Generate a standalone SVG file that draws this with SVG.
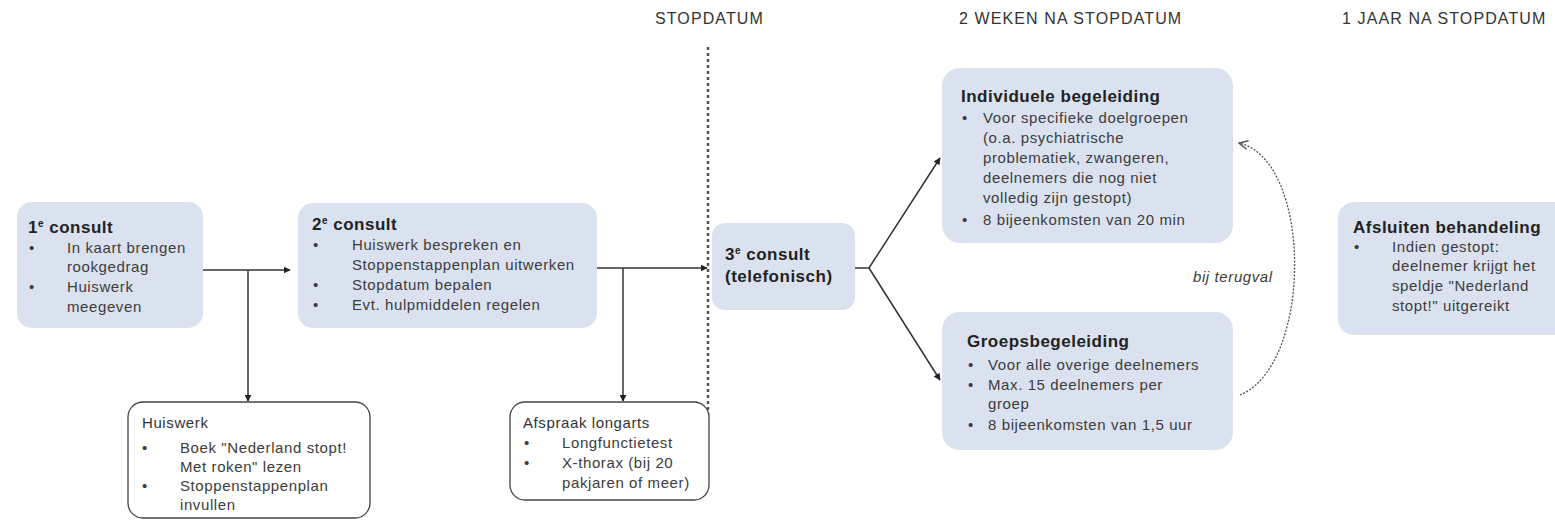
<svg xmlns="http://www.w3.org/2000/svg" width="1555" height="520" viewBox="0 0 1555 520">
<style>
text{font-family:"Liberation Sans",Arial,sans-serif;}
.hdr{font-size:16px;letter-spacing:1.1px;fill:#333;}
.ttl{font-size:17px;font-weight:bold;letter-spacing:0.5px;fill:#222;}
.txt{font-size:15px;letter-spacing:0.6px;fill:#3c3c3c;}
.sub{font-size:15px;letter-spacing:0.6px;fill:#333;}
.box{fill:#dae2f0;}
.obox{fill:#ffffff;stroke:#444;stroke-width:1.3;}
.con{fill:none;stroke:#333;stroke-width:1.5;}
.sup{font-size:10px;}
</style>
<defs>
<marker id="arr" viewBox="0 0 10 10" refX="9" refY="5" markerWidth="7" markerHeight="7" orient="auto" markerUnits="userSpaceOnUse">
<path d="M0,0 L10,5 L0,10 z" fill="#222"/>
</marker>
<marker id="open" viewBox="0 0 10 10" refX="9" refY="5" markerWidth="11" markerHeight="11" orient="auto" markerUnits="userSpaceOnUse">
<path d="M1,1 L9,5 L1,9" fill="none" stroke="#555" stroke-width="1.3"/>
</marker>
</defs>

<g id="headers">
<text class="hdr" x="655" y="24">STOPDATUM</text>
<text class="hdr" x="959" y="24">2 WEKEN NA STOPDATUM</text>
<text class="hdr" x="1342" y="24">1 JAAR NA STOPDATUM</text>
</g>

<g id="connectors">
<line x1="708" y1="47" x2="708" y2="417" stroke="#555" stroke-width="2.5" stroke-dasharray="3 3"/>
<path class="con" d="M203,270 H290" marker-end="url(#arr)"/>
<path class="con" d="M248,270 V401" marker-end="url(#arr)"/>
<path class="con" d="M597,268 H707" marker-end="url(#arr)"/>
<path class="con" d="M623,268 V401" marker-end="url(#arr)"/>
<path class="con" d="M855,268 H869 L940,158" marker-end="url(#arr)"/>
<path class="con" d="M869,268 L940,380" marker-end="url(#arr)"/>
<path d="M1240,395 C1313,365 1313,160 1239,143" fill="none" stroke="#555" stroke-width="1.3" stroke-dasharray="2 1.5" marker-end="url(#open)"/>
<text x="1193" y="282" class="txt" font-style="italic">bij terugval</text>
</g>

<g id="consult1">
<rect class="box" x="17" y="202" width="186" height="126" rx="15"/>
<text class="ttl" x="28" y="233">1<tspan class="sup" dy="-6">e</tspan><tspan dy="6"> consult</tspan></text>
<text class="txt" x="29" y="253">•</text>
<text class="txt" x="67" y="253">In kaart brengen</text>
<text class="txt" x="67" y="272">rookgedrag</text>
<text class="txt" x="29" y="292">•</text>
<text class="txt" x="67" y="292">Huiswerk</text>
<text class="txt" x="67" y="312">meegeven</text>
</g>

<g id="consult2">
<rect class="box" x="298" y="203" width="299" height="125" rx="15"/>
<text class="ttl" x="312" y="230">2<tspan class="sup" dy="-6">e</tspan><tspan dy="6"> consult</tspan></text>
<text class="txt" x="313" y="250">•</text>
<text class="txt" x="352" y="250">Huiswerk bespreken en</text>
<text class="txt" x="352" y="270">Stoppenstappenplan uitwerken</text>
<text class="txt" x="313" y="290">•</text>
<text class="txt" x="352" y="290">Stopdatum bepalen</text>
<text class="txt" x="313" y="310">•</text>
<text class="txt" x="352" y="310">Evt. hulpmiddelen regelen</text>
</g>

<g id="huiswerk">
<rect class="obox" x="128" y="402" width="242" height="116" rx="15"/>
<text class="sub" x="142" y="428">Huiswerk</text>
<text class="txt" x="142" y="453">•</text>
<text class="txt" x="180" y="453">Boek "Nederland stopt!</text>
<text class="txt" x="180" y="472">Met roken" lezen</text>
<text class="txt" x="142" y="491">•</text>
<text class="txt" x="180" y="491">Stoppenstappenplan</text>
<text class="txt" x="180" y="510">invullen</text>
</g>

<g id="longarts">
<rect class="obox" x="510" y="402" width="199" height="98" rx="15"/>
<text class="sub" x="523" y="428">Afspraak longarts</text>
<text class="txt" x="524" y="448">•</text>
<text class="txt" x="562" y="448">Longfunctietest</text>
<text class="txt" x="524" y="468">•</text>
<text class="txt" x="562" y="468">X-thorax (bij 20</text>
<text class="txt" x="562" y="488">pakjaren of meer)</text>
</g>

<g id="consult3">
<rect class="box" x="712" y="223" width="143" height="87" rx="13"/>
<text class="ttl" x="725" y="260">3<tspan class="sup" dy="-6">e</tspan><tspan dy="6"> consult</tspan></text>
<text class="ttl" x="725" y="282">(telefonisch)</text>
</g>

<g id="individueel">
<rect class="box" x="942" y="68" width="291" height="175" rx="18"/>
<text class="ttl" x="961" y="102">Individuele begeleiding</text>
<text class="txt" x="962" y="123">•</text>
<text class="txt" x="983" y="123">Voor specifieke doelgroepen</text>
<text class="txt" x="983" y="143">(o.a. psychiatrische</text>
<text class="txt" x="983" y="163">problematiek, zwangeren,</text>
<text class="txt" x="983" y="183">deelnemers die nog niet</text>
<text class="txt" x="983" y="203">volledig zijn gestopt)</text>
<text class="txt" x="962" y="225">•</text>
<text class="txt" x="983" y="225">8 bijeenkomsten van 20 min</text>
</g>

<g id="groep">
<rect class="box" x="942" y="312" width="291" height="138" rx="18"/>
<text class="ttl" x="967" y="347">Groepsbegeleiding</text>
<text class="txt" x="968" y="370">•</text>
<text class="txt" x="988" y="370">Voor alle overige deelnemers</text>
<text class="txt" x="968" y="390">•</text>
<text class="txt" x="988" y="390">Max. 15 deelnemers per</text>
<text class="txt" x="988" y="409">groep</text>
<text class="txt" x="968" y="430">•</text>
<text class="txt" x="988" y="430">8 bijeenkomsten van 1,5 uur</text>
</g>

<g id="afsluiten">
<rect class="box" x="1338" y="202" width="240" height="133" rx="16"/>
<text class="ttl" x="1353" y="233">Afsluiten behandeling</text>
<text class="txt" x="1354" y="252">•</text>
<text class="txt" x="1392" y="252">Indien gestopt:</text>
<text class="txt" x="1392" y="271">deelnemer krijgt het</text>
<text class="txt" x="1392" y="291">speldje "Nederland</text>
<text class="txt" x="1392" y="311">stopt!" uitgereikt</text>
</g>
</svg>
